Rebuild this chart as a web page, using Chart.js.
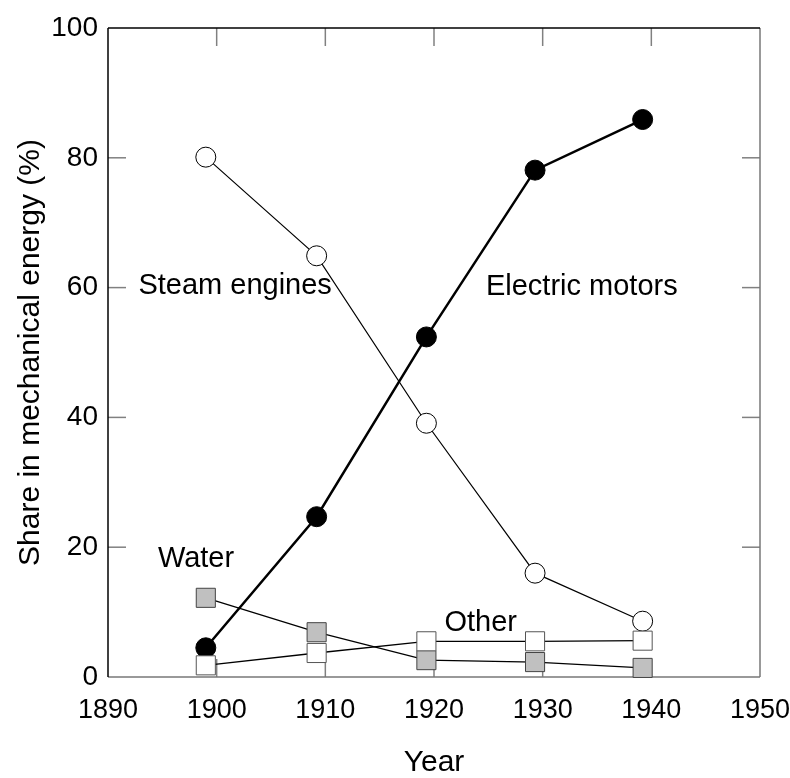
<!DOCTYPE html>
<html>
<head>
<meta charset="utf-8">
<script src="https://cdn.jsdelivr.net/npm/chart.js@4.4.1/dist/chart.umd.min.js"></script>
<style>
  body { margin: 0; background: #fff; }
  #wrap { width: 790px; height: 778px; }
</style>
</head>
<body>
<div id="wrap"><canvas id="energy"></canvas></div>
<script>
// values (share in %)
const years = [1899, 1909.2, 1919.3, 1929.3, 1939.2];
const electric = [4.5, 24.7, 52.4, 78.1, 85.9];
const steam = [80.1, 64.9, 39.1, 16.0, 8.6];
const water = [12.2, 6.9, 2.6, 2.3, 1.4];
const other = [1.8, 3.7, 5.5, 5.5, 5.6];

// in-plot series labels (data coordinates)
const labelText = ['Steam engines', 'Electric motors', 'Water', 'Other'];
const labelX = [1901.7, 1933.6, 1898.1, 1924.3];
const labelY = [60.3, 60.1, 18.2, 8.3];

const FONT = "'Liberation Sans', Arial, sans-serif";
Chart.defaults.font.family = FONT;
Chart.defaults.color = '#000';

const pts = arr => arr.map((v, i) => ({ x: years[i], y: v }));
const TICK = 18;

// frame with inward ticks, like the original plot
const framePlugin = {
    id: 'frame',
    beforeDatasetsDraw(chart) {
        const { ctx, chartArea: a, scales: { x, y } } = chart;
        const line = (x1, y1, x2, y2) => { ctx.beginPath(); ctx.moveTo(x1, y1); ctx.lineTo(x2, y2); ctx.stroke(); };
        ctx.save();
        ctx.strokeStyle = '#808080';
        ctx.lineWidth = 1.5;
        x.ticks.forEach(t => {
            const px = x.getPixelForValue(t.value);
            if (px <= a.left + 1 || px >= a.right - 1) return;
            line(px, a.bottom, px, a.bottom - TICK);
            line(px, a.top, px, a.top + TICK);
        });
        y.ticks.forEach(t => {
            const py = y.getPixelForValue(t.value);
            if (py <= a.top + 1 || py >= a.bottom - 1) return;
            line(a.left, py, a.left + TICK, py);
            line(a.right, py, a.right - TICK, py);
        });
        ctx.strokeStyle = '#777';
        line(a.left, a.bottom, a.right, a.bottom);
        line(a.right, a.top, a.right, a.bottom);
        ctx.strokeStyle = '#000';
        line(a.left, a.top, a.right, a.top);
        line(a.left, a.top, a.left, a.bottom);
        ctx.restore();
    },
    afterDraw(chart) {
        const { ctx, scales: { x, y } } = chart;
        ctx.save();
        ctx.font = '29px ' + FONT;
        ctx.fillStyle = '#000';
        ctx.textAlign = 'center';
        ctx.textBaseline = 'middle';
        labelText.forEach((t, i) => {
            ctx.fillText(t, x.getPixelForValue(labelX[i]), y.getPixelForValue(labelY[i]));
        });
        ctx.restore();
    }
};

const ctx = document.getElementById('energy').getContext('2d');
const chart = new Chart(ctx, {
    type: 'line',
    data: {
        datasets: [{
            label: 'Other',
            data: pts(other),
            borderColor: '#000',
            borderWidth: 1.3,
            pointStyle: 'rect',
            pointRadius: 13.5,
            pointBackgroundColor: '#fff',
            pointBorderColor: '#555',
            pointBorderWidth: 1,
            tension: 0,
            clip: false
        }, {
            label: 'Water',
            data: pts(water),
            borderColor: '#000',
            borderWidth: 1.3,
            pointStyle: 'rect',
            pointRadius: 13.5,
            pointBackgroundColor: '#c0c0c0',
            pointBorderColor: '#444',
            pointBorderWidth: 1,
            tension: 0,
            clip: false
        }, {
            label: 'Electric motors',
            data: pts(electric),
            borderColor: '#000',
            borderWidth: 2.5,
            pointStyle: 'circle',
            pointRadius: 10,
            pointBackgroundColor: '#000',
            pointBorderColor: '#000',
            pointBorderWidth: 1,
            tension: 0,
            clip: false
        }, {
            label: 'Steam engines',
            data: pts(steam),
            borderColor: '#000',
            borderWidth: 1.2,
            pointStyle: 'circle',
            pointRadius: 10,
            pointBackgroundColor: '#fff',
            pointBorderColor: '#000',
            pointBorderWidth: 1,
            tension: 0,
            clip: false
        }]
    },
    options: {
        responsive: true,
        maintainAspectRatio: false,
        animation: false,
        events: [],
        layout: { padding: { left: 0, right: 30, top: 28, bottom: 0 } },
        plugins: {
            legend: { display: false },
            tooltip: { enabled: false }
        },
        scales: {
            x: {
                type: 'linear',
                min: 1890,
                max: 1950,
                ticks: { stepSize: 10, padding: 17, font: { size: 27 }, callback: v => String(v) },
                grid: { display: false, drawTicks: false },
                border: { display: false },
                title: { display: true, text: 'Year', font: { size: 30, lineHeight: 1 }, padding: 0 },
                afterFit: s => { s.height = 101; s.paddingLeft = 0; s.paddingRight = 0; }
            },
            y: {
                min: 0,
                max: 100,
                ticks: { stepSize: 20, padding: 10, font: { size: 28 } },
                grid: { display: false, drawTicks: false },
                border: { display: false },
                title: { display: true, text: 'Share in mechanical energy (%)', font: { size: 30, lineHeight: 1 }, padding: { top: 16, bottom: 0 } },
                afterFit: s => { s.width = 108; s.paddingTop = 0; s.paddingBottom = 0; }
            }
        }
    },
    plugins: [framePlugin]
});
</script>
</body>
</html>
